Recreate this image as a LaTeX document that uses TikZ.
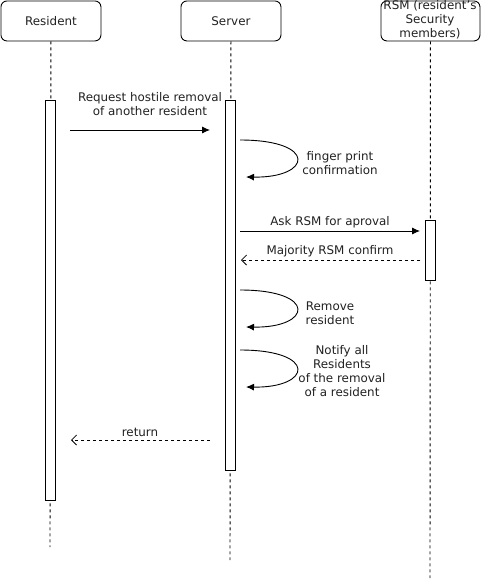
\documentclass[tikz,border=0pt]{standalone}
\usepackage{fontspec}
\setmainfont{DejaVu Sans}
\usetikzlibrary{arrows.meta}
\definecolor{txt}{HTML}{222222}
\tikzset{
  x=1pt,y=-1pt,
  actor/.style={draw,rounded corners=6pt,minimum width=100pt,minimum height=40pt,inner sep=0pt,anchor=north west,line width=0.9pt},
  life/.style={dashed,dash pattern=on 3pt off 3pt,line width=0.9pt},
  act/.style={draw,fill=white,minimum width=10pt,inner sep=0pt,anchor=north,line width=0.9pt},
  msg/.style={line width=0.9pt,-{Latex[length=8pt,width=7pt]}},
  ret/.style={line width=0.8pt,dash pattern=on 3pt off 3pt,-{Straight Barb[length=5pt,width=10pt]}},
  lbl/.style={font=\fontsize{11.9}{14}\selectfont,text=txt,align=center,inner sep=0pt},
}
\begin{document}
\begin{tikzpicture}
\useasboundingbox (0,0) rectangle (481,581);
\fill[white] (0,0) rectangle (481,581);
% actors
\node[actor] (res) at (0.5,0.5) {};
\node[lbl] at (res.center) {Resident};
\node[actor] (srv) at (180.5,0.5) {};
\node[lbl] at (srv.center) {Server};
\node[actor,minimum width=99pt] (rsm) at (380.5,0.5) {};
\node[lbl] at (430,20) {RSM (resident's\\Security\\members)};
% lifelines
\coordinate (resend) at (50,547);
\coordinate (srvend) at (230,560);
\coordinate (rsmend) at (430,578);
\draw[life] (res.south) -- (resend);
\draw[life] (srv.south) -- (srvend);
\draw[life] (rsm.south) -- (rsmend);
% activations
\node[act,minimum height=400pt] (resA) at (50,100) {};
\node[act,minimum height=370pt] (srvA) at (230,100) {};
\node[act,minimum height=60pt] (rsmA) at (430,220) {};
% messages
\coordinate (m1s) at (70,130);
\coordinate (m1e) at (210,130);
\draw[msg] (m1s) -- (m1e);
\node[lbl] at (150,104) {Request hostile removal\\of another resident};
% self loop 1
\coordinate (l1s) at (240,140);
\coordinate (l1e) at (246,177);
\draw[msg] (l1s) .. controls (318,140) and (312,178) .. (l1e);
\node[lbl] at (340,163) {finger print\\confirmation};
% ask RSM
\coordinate (m2s) at (240,231);
\coordinate (m2e) at (420,231);
\draw[msg] (m2s) -- (m2e);
\node[lbl] at (330,222) {Ask RSM for aproval};
% majority
\coordinate (m3s) at (420,260);
\coordinate (m3e) at (241,260);
\draw[ret] (m3s) -- (m3e);
\node[lbl] at (330,251) {Majority RSM confirm};
% self loop 2
\coordinate (l2s) at (240,290);
\coordinate (l2e) at (246,327);
\draw[msg] (l2s) .. controls (318,290) and (312,328) .. (l2e);
\node[lbl] at (330,313) {Remove\\resident};
% self loop 3
\coordinate (l3s) at (240,350);
\coordinate (l3e) at (246,387);
\draw[msg] (l3s) .. controls (318,350) and (312,388) .. (l3e);
\node[lbl] at (342,371) {Notify all\\Residents\\of the removal\\of a resident};
% return
\coordinate (m4s) at (210,440);
\coordinate (m4e) at (71,440);
\draw[ret] (m4s) -- (m4e);
\node[lbl] at (140,432) {return};
\end{tikzpicture}
\end{document}
